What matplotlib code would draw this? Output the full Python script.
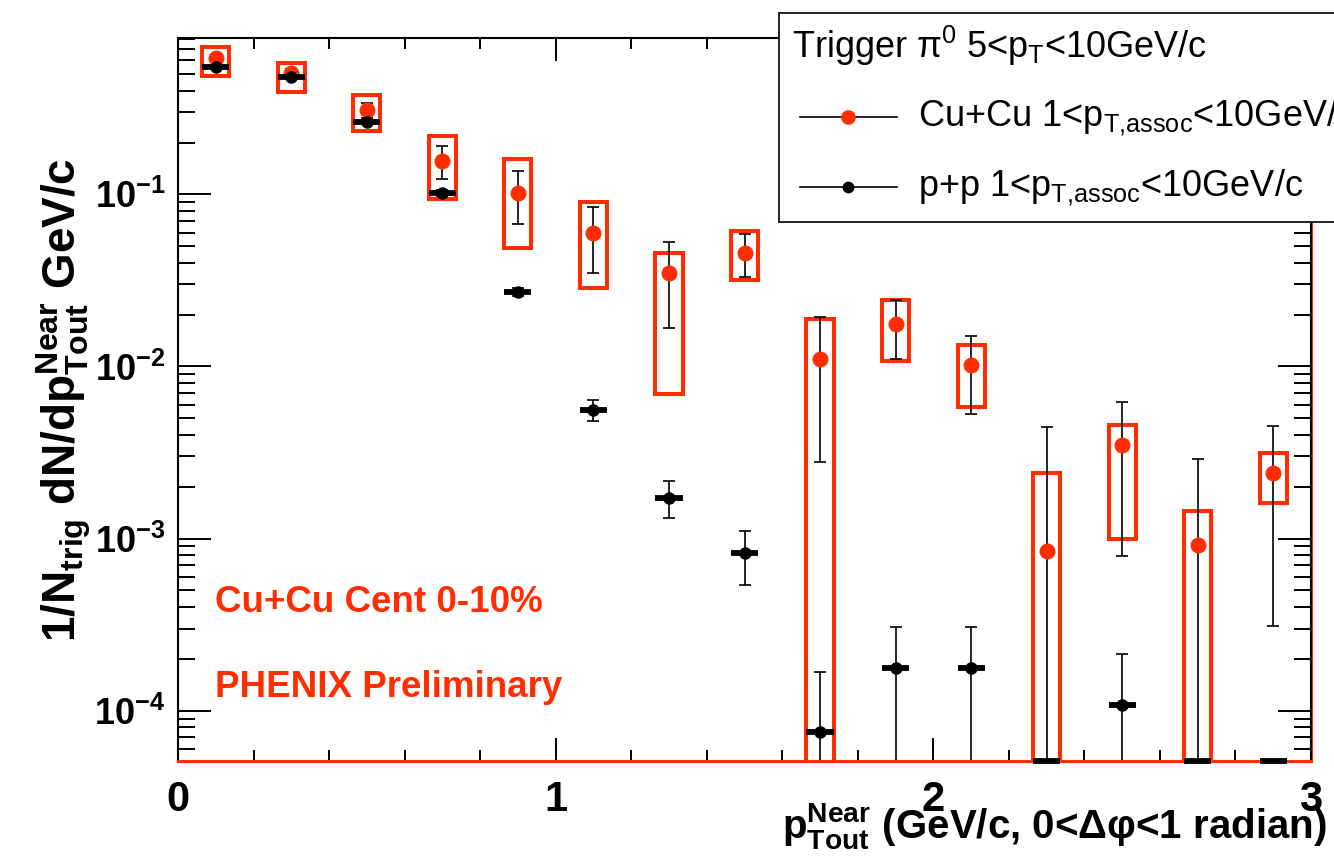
import numpy as np
import matplotlib
matplotlib.use("Agg")
import matplotlib.pyplot as plt
from matplotlib.patches import Rectangle
from matplotlib.lines import Line2D
from matplotlib.ticker import FixedLocator, FuncFormatter, NullFormatter

plt.rcParams["font.family"] = ["Liberation Sans", "DejaVu Sans"]
plt.rcParams["mathtext.fontset"] = "custom"
plt.rcParams["mathtext.rm"] = "Liberation Sans"
plt.rcParams["mathtext.it"] = "Liberation Sans:italic"
plt.rcParams["mathtext.bf"] = "Liberation Sans:bold"

# ---- data -------------------------------------------------------------
pt_out = [0.1, 0.3, 0.5, 0.7, 0.9, 1.1, 1.3, 1.5, 1.7, 1.9, 2.1, 2.3, 2.5, 2.7, 2.9]

# Cu+Cu central (0-10%)
cucu_yield = [0.618, 0.51, 0.308, 0.156, 0.102, 0.060, 0.0348, 0.0458, 0.0111,
              0.0176, 0.0102, 0.000845, 0.00349, 0.000916, 0.00241]
cucu_stat = [0.03, 0.025, 0.03, 0.034, 0.035, 0.025, 0.018, 0.0128, 0.0083,
             0.0066, 0.0049, 0.0036, 0.0027, 0.0020, 0.0021]
cucu_sys_lo = [0.488, 0.391, 0.234, 0.0943, 0.0489, 0.0287, 0.00695, 0.0316, 0.0,
               0.0108, 0.00583, 0.0, 0.00100, 0.0, 0.0016]
cucu_sys_hi = [0.714, 0.583, 0.377, 0.218, 0.160, 0.0906, 0.0455, 0.0612, 0.0189,
               0.0242, 0.0134, 0.00241, 0.00455, 0.00145, 0.00315]

# p+p reference
pp_yield = [0.547, 0.481, 0.264, 0.102, 0.0272, 0.00561, 0.00173, 0.00082, 7.5e-5,
            0.000176, 0.000176, 0.0, 0.000108, 0.0, 0.0]
pp_stat = [0.012, 0.010, 0.008, 0.004, 0.0015, 0.0008, 0.00042, 0.00028, 9.3e-5,
           0.00013, 0.00013, 0.0, 0.000105, 0.0, 0.0]

bin_half = 0.036

X_MIN, X_MAX = 0.0, 3.0
Y_MIN, Y_MAX = 5.1e-5, 0.81

RED = "#ff2d00"

# ---- figure -----------------------------------------------------------
W, H = 1334, 864
fig = plt.figure(figsize=(W / 100, H / 100), dpi=100)
ax = fig.add_axes([178 / W, 1 - 761 / H, (1311 - 178) / W, (761 - 38) / H])
ax.set_yscale("log")
ax.set_xlim(X_MIN, X_MAX)
ax.set_ylim(Y_MIN, Y_MAX)

x = np.array(pt_out)
cy = np.array(cucu_yield)
cs = np.array(cucu_stat)
slo = np.array(cucu_sys_lo)
shi = np.array(cucu_sys_hi)
py = np.array(pp_yield)
ps = np.array(pp_stat)

# systematic boxes for Cu+Cu
for xi, lo, hi in zip(x, slo, shi):
    lo_draw = lo if lo > 0 else Y_MIN * 0.3
    ax.add_patch(Rectangle((xi - bin_half, lo_draw), 2 * bin_half, hi - lo_draw,
                           fill=False, edgecolor=RED, linewidth=2.9, zorder=2))

# Cu+Cu statistical errors and points
c_lo = np.maximum(cy - cs, 1e-9)
ax.errorbar(x, cy, yerr=[cy - c_lo, cs], fmt="none", ecolor="black",
            elinewidth=1.2, capsize=4, capthick=1.2, zorder=3)
ax.plot(x, cy, "o", color=RED, markersize=11.5, markeredgewidth=0, zorder=4)

# p+p statistical errors and points
m = py > 0
p_lo = np.maximum(py[m] - ps[m], 1e-9)
ax.errorbar(x[m], py[m], yerr=[py[m] - p_lo, ps[m]], fmt="none", ecolor="black",
            elinewidth=1.2, capsize=4, capthick=1.2, zorder=5)
ax.hlines(py[m], x[m] - bin_half, x[m] + bin_half, color="black", linewidth=4.2, zorder=5)
ax.plot(x[m], py[m], "o", color="black", markersize=9, markeredgewidth=0, zorder=6)
# bins with no p+p signal sit on the lower edge
ax.hlines(np.full((~m).sum(), Y_MIN), x[~m] - bin_half, x[~m] + bin_half,
          color="black", linewidth=4.2, zorder=7, clip_on=False)

# red frame lines along the lower and right edges
ax.plot([X_MIN, X_MAX], [Y_MIN, Y_MIN], color=RED, linewidth=2.2, zorder=6, clip_on=False)
ax.plot([X_MAX, X_MAX], [Y_MIN, Y_MAX], color=RED, linewidth=2.2, zorder=1, clip_on=False)

# ---- axes styling -----------------------------------------------------
for s in ax.spines.values():
    s.set_linewidth(1.5)
    s.set_zorder(5)

ax.xaxis.set_major_locator(FixedLocator([0, 1, 2, 3]))
ax.xaxis.set_minor_locator(FixedLocator(np.arange(0.2, 3.0, 0.2)))
ax.xaxis.set_major_formatter(FuncFormatter(lambda v, p: f"{int(round(v))}"))
ax.xaxis.set_minor_formatter(NullFormatter())

y_major = [1e-4, 1e-3, 1e-2, 1e-1]
y_minor = [k * 10.0 ** e for e in range(-5, 0) for k in range(2, 10)]
ax.yaxis.set_major_locator(FixedLocator(y_major))
ax.yaxis.set_minor_locator(FixedLocator(y_minor))
ax.yaxis.set_major_formatter(FuncFormatter(
    lambda v, p: r"$\mathbf{10^{%d}}$" % int(round(np.log10(v)))))
ax.yaxis.set_minor_formatter(NullFormatter())

ax.tick_params(axis="both", which="both", direction="in", top=True, right=True,
               width=1.4, color="black")
ax.tick_params(axis="x", which="major", length=16.5, pad=14, labelsize=30)
ax.tick_params(axis="x", which="minor", length=8)
ax.tick_params(axis="y", which="major", length=24, pad=9, labelsize=26)
ax.tick_params(axis="y", which="minor", length=12)
for lab in ax.get_xticklabels() + ax.get_yticklabels():
    lab.set_fontweight("bold")

# axis titles
fig.text(1327 / W, 1 - 838 / H,
         r"$\mathbf{p^{Near}_{Tout}}$ (GeV/c, 0<Δφ<1 radian)",
         ha="right", va="baseline", fontsize=29, fontweight="bold")
fig.text(64 / W, 1 - 400 / H,
         r"1/$\mathbf{N_{trig}}$ dN/d$\mathbf{p^{Near}_{Tout}}$ GeV/c",
         ha="center", va="center", rotation=90, fontsize=33, fontweight="bold")

# annotations
fig.text(215 / W, 1 - 612 / H, "Cu+Cu Cent 0-10%", color=RED,
         fontsize=26.5, fontweight="bold", ha="left", va="baseline")
fig.text(215 / W, 1 - 697 / H, "PHENIX Preliminary", color=RED,
         fontsize=26.5, fontweight="bold", ha="left", va="baseline")

# ---- legend box -------------------------------------------------------
def fpx(px, py_):
    return px / W, 1 - py_ / H

lx0, ly0 = fpx(779, 222)
lx1, ly1 = fpx(1400, 13)
fig.patches.append(Rectangle((lx0, ly0), lx1 - lx0, ly1 - ly0, transform=fig.transFigure,
                             fill=True, facecolor="white", edgecolor="#222222",
                             linewidth=1.4, zorder=10))
fig.text(*fpx(792, 58), r"Trigger $\mathrm{π^0}$ 5<$\mathrm{p_T}$<10GeV/c",
         fontsize=26, ha="left", va="baseline", zorder=11)

entries = [
    (RED, 10.5, r"Cu+Cu 1<$\mathrm{p_{T{,}assoc}}$<10GeV/c", 117),
    ("black", 8.5, r"p+p 1<$\mathrm{p_{T{,}assoc}}$<10GeV/c", 187),
]
for col, ms, label, yy in entries:
    xa, ya = fpx(800, yy)
    xb, _ = fpx(897, yy)
    xm, _ = fpx(848, yy)
    fig.lines.append(Line2D([xa, xb], [ya, ya], transform=fig.transFigure,
                            color="black", linewidth=1.2, zorder=11))
    fig.lines.append(Line2D([xm], [ya], transform=fig.transFigure, marker="o",
                            color=col, markersize=ms, markeredgewidth=0, zorder=12))
    fig.text(*fpx(918, yy + 10), label, fontsize=26, ha="left", va="baseline", zorder=11)

fig.savefig("out.png", dpi=100)
